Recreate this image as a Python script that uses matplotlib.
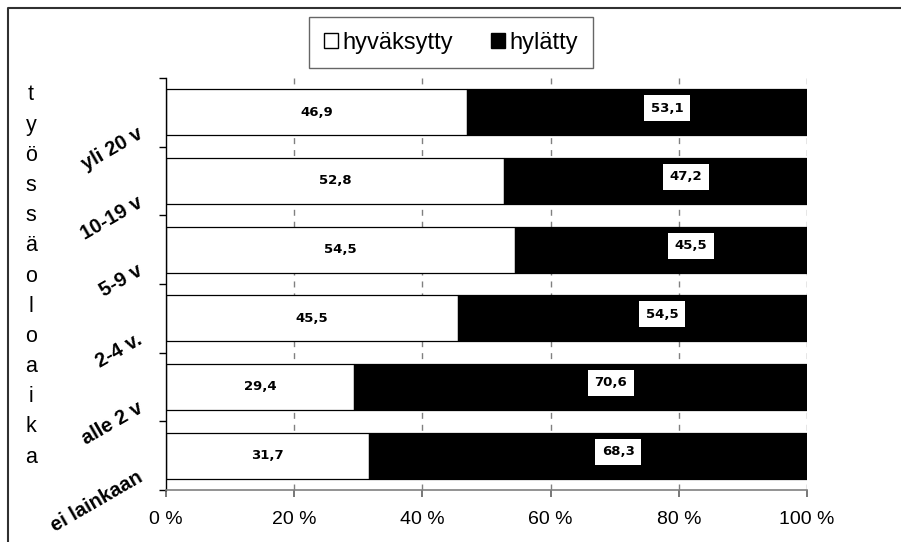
import matplotlib
matplotlib.use("Agg")
import matplotlib.pyplot as plt
from matplotlib.patches import Patch
from matplotlib.lines import Line2D

plt.rcParams['font.family'] = ['Liberation Sans', 'DejaVu Sans']

# Data (bottom to top)
categories = ["ei lainkaan", "alle 2 v", "2-4 v.", "5-9 v", "10-19 v", "yli 20 v"]
hyvaksytty = [31.7, 29.4, 45.5, 54.5, 52.8, 46.9]
hylatty = [68.3, 70.6, 54.5, 45.5, 47.2, 53.1]
series_names = ["hyväksytty", "hylätty"]
x_ticks = [0, 20, 40, 60, 80, 100]
x_tick_labels = ["0 %", "20 %", "40 %", "60 %", "80 %", "100 %"]
axis_title = "työssäoloaika"

W, H = 901, 542
fig = plt.figure(figsize=(W / 100, H / 100), dpi=100)
fig.patch.set_facecolor("white")

ax = fig.add_axes([166 / W, 1 - 490 / H, (807 - 166) / W, (490 - 78) / H])
ypos = list(range(len(categories)))
bar_h = 0.67

# vertical dashed gridlines behind the bars
for xv in x_ticks[1:]:
    ax.axvline(xv, color="#808080", lw=1.0, linestyle=(0, (4.3, 4.3)), zorder=0)

ax.barh(ypos, hyvaksytty, height=bar_h, color="white", edgecolor="black", lw=0.9, zorder=2)
ax.barh(ypos, hylatty, left=hyvaksytty, height=bar_h, color="black", edgecolor="black",
        lw=0.9, zorder=2)

ax.set_xlim(0, 100)
ax.set_ylim(-0.5, len(categories) - 0.5)

# value labels
for y, a, b in zip(ypos, hyvaksytty, hylatty):
    ax.text(a / 2, y, f"{a:.1f}".replace(".", ","), ha="center", va="center",
            fontsize=9.5, fontweight="bold", family="DejaVu Sans", zorder=4)
    ax.annotate(f"{b:.1f}".replace(".", ","), xy=(a + b / 2, y), xytext=(21.6, 2.9),
                textcoords="offset points", ha="center", va="center",
                fontsize=9.5, fontweight="bold", family="DejaVu Sans", color="black",
                bbox=dict(boxstyle="square,pad=0.5", fc="white", ec="none"), zorder=5)

# rotated category labels
for y, c in zip(ypos, categories):
    ax.annotate(c, xy=(0, y), xytext=(-18, -14.4), textcoords="offset points",
                ha="right", va="center", rotation=30, rotation_mode="anchor",
                fontsize=14.5, fontweight="bold", annotation_clip=False)

# axes styling
ax.spines["top"].set_visible(False)
ax.spines["right"].set_visible(False)
ax.spines["left"].set_color("black")
ax.spines["left"].set_linewidth(1.0)
ax.spines["bottom"].set_color("#808080")
ax.spines["bottom"].set_linewidth(1.2)
ax.set_xticks(x_ticks)
ax.set_xticklabels(x_tick_labels, fontsize=14)
ax.tick_params(axis="x", direction="out", length=5, width=1.2, color="#606060", pad=10)
ax.set_yticks([i - 0.5 for i in range(len(categories) + 1)])
ax.set_yticklabels([])
ax.tick_params(axis="y", direction="out", length=5, width=1.0, color="black")

# stacked vertical axis title
for i, ch in enumerate(axis_title):
    fig.text(31 / W, 1 - (95 + i * 30.17) / H, ch, ha="center", va="center", fontsize=15.5)

# legend
handles = [Patch(facecolor="white", edgecolor="black", lw=1.0),
           Patch(facecolor="black", edgecolor="black", lw=1.0)]
leg = fig.legend(handles, series_names, loc="center", bbox_to_anchor=(451 / W, 1 - 42.5 / H),
                 ncol=2, fontsize=17, frameon=True, fancybox=False, handlelength=0.6,
                 handleheight=0.6, handletextpad=0.2, columnspacing=1.6, borderpad=0.6)
leg.get_frame().set_edgecolor("#404040")
leg.get_frame().set_linewidth(1.0)

# outer frame (top and left)
fig.add_artist(Line2D([8 / W, 8 / W, 1.0], [0.0, 1 - 8 / H, 1 - 8 / H],
                      transform=fig.transFigure, color="#303030", lw=1.5))

fig.savefig("out.png", dpi=100)
